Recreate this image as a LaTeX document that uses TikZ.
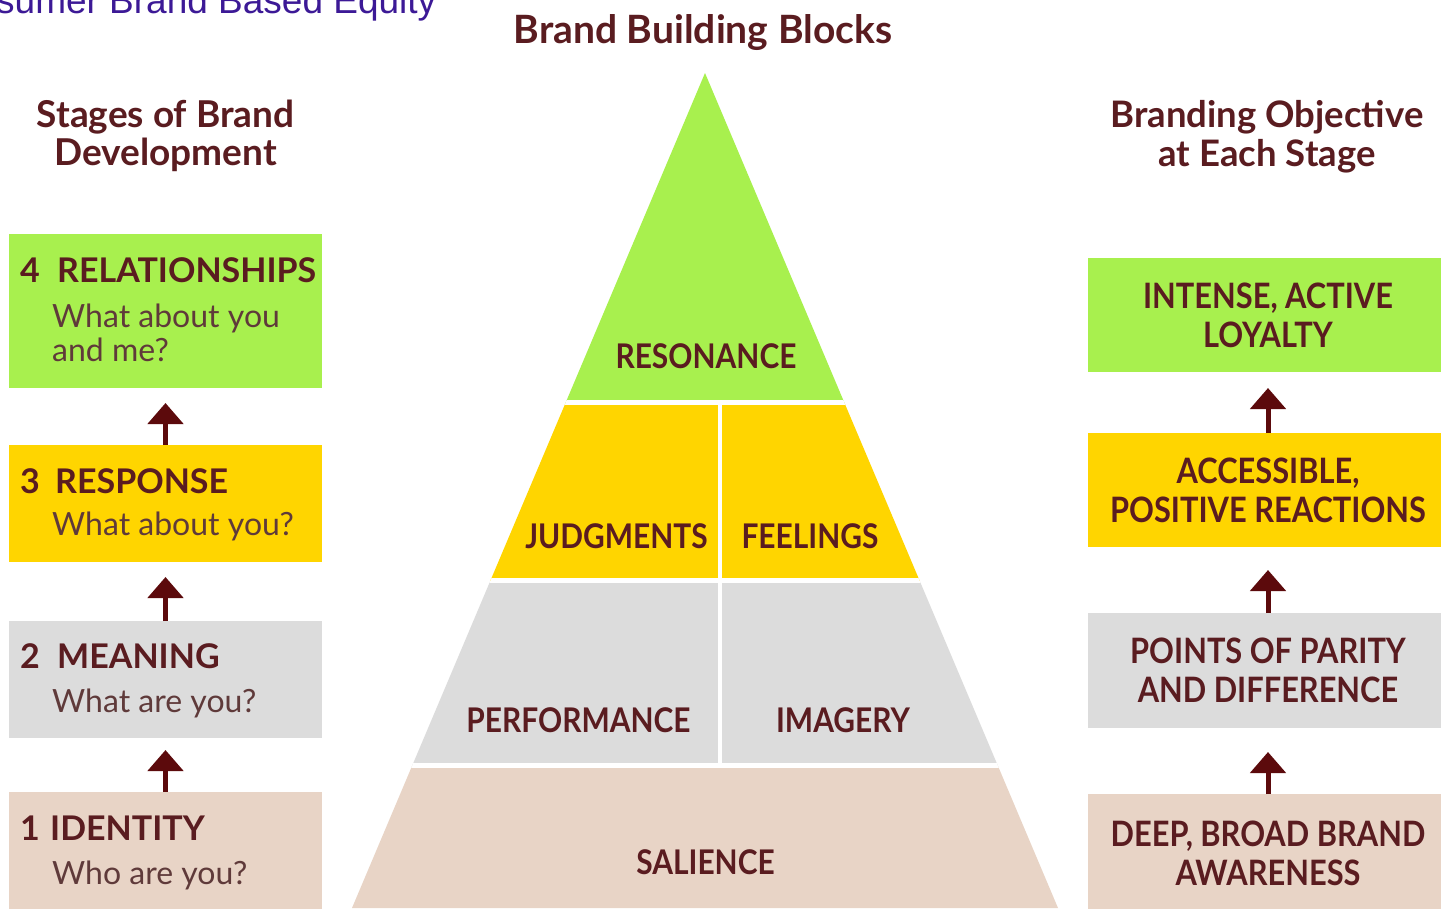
\documentclass[tikz,border=0pt]{standalone}
\usepackage{fontspec}
\setmainfont{Lato}
\newfontfamily\narrowf{Lato}[FakeStretch=0.88]
\newfontfamily\arialf{Liberation Sans}
\usetikzlibrary{arrows.meta}
\definecolor{cgreen}{RGB}{168,240,78}
\definecolor{cyellow}{RGB}{255,213,0}
\definecolor{cgrey}{RGB}{220,220,220}
\definecolor{cbeige}{RGB}{232,212,198}
\definecolor{ctext}{RGB}{90,28,32}
\definecolor{cqtext}{RGB}{95,58,58}
\definecolor{carrow}{RGB}{92,10,12}
\definecolor{cpurple}{RGB}{60,25,150}
\tikzset{
  lbox/.style={inner sep=0pt, outer sep=0pt, minimum width=313pt},
  rbox/.style={inner sep=0pt, outer sep=0pt, minimum width=360pt, align=center, text=ctext,
    font=\narrowf\bfseries\fontsize{35}{39}\selectfont},
  stagetxt/.style={anchor=base west, inner sep=0pt, text=ctext, font=\bfseries\fontsize{34}{34}\selectfont},
  qtxt/.style={anchor=base west, inner sep=0pt, text=cqtext, font=\fontsize{32}{32}\selectfont},
  headtxt/.style={anchor=base, inner sep=0pt, text=ctext, font=\bfseries\fontsize{#1}{#1}\selectfont},
  headtxt/.default=38,
  pyrtxt/.style={anchor=base, inner sep=0pt, text=ctext, font=\narrowf\bfseries\fontsize{34}{34}\selectfont},
  uparrow/.style={draw=carrow, line width=5pt, -{Triangle[width=35pt,length=21pt]}},
}
\begin{document}
\begin{tikzpicture}[x=1pt,y=-1pt]
\useasboundingbox (0,0) rectangle (1441,908);
\clip (0,0) rectangle (1441,908);
\fill[white] (0,0) rectangle (1441,908);

% top-left cut title
\node[anchor=base west, inner sep=0pt, text=cpurple, font=\arialf\fontsize{37}{37}\selectfont] (eq) at (-4,13) {sumer Brand Based Equity};

% headers
\node[headtxt=39] (h1) at (703,43) {Brand Building Blocks};
\node[headtxt=37] (h2a) at (165.5,127) {Stages of Brand};
\node[headtxt=37] (h2b) at (165.5,165) {Development};
\node[headtxt=36.5] (h3a) at (1267,127) {Branding Objective};
\node[headtxt=36.5] (h3b) at (1267,166) {at Each Stage};

% pyramid
\begin{scope}
\clip (705,73) -- (352,908) -- (1058,908) -- cycle;
\fill[cgreen] (300,60) rectangle (1100,402.5);
\fill[cyellow] (300,402.5) rectangle (1100,580.5);
\fill[cgrey] (300,580.5) rectangle (1100,765.5);
\fill[cbeige] (300,765.5) rectangle (1100,920);
\draw[white, line width=5pt] (300,402.5) -- (1100,402.5);
\draw[white, line width=5pt] (300,580.5) -- (1100,580.5);
\draw[white, line width=5pt] (300,765.5) -- (1100,765.5);
\draw[white, line width=4pt] (720,402) -- (720,766);
\end{scope}
\node[pyrtxt] (pres) at (706,368) {RESONANCE};
\node[pyrtxt] (pjud) at (616.5,548) {JUDGMENTS};
\node[pyrtxt] (pfee) at (810,548) {FEELINGS};
\node[pyrtxt] (pper) at (578.5,732) {PERFORMANCE};
\node[pyrtxt] (pima) at (843,732) {IMAGERY};
\node[pyrtxt] (psal) at (705.5,874) {SALIENCE};

% left boxes
\node[lbox, fill=cgreen, minimum height=154pt] (b4) at (165.5,311) {};
\node[lbox, fill=cyellow, minimum height=117pt] (b3) at (165.5,503.5) {};
\node[lbox, fill=cgrey, minimum height=117pt] (b2) at (165.5,679.5) {};
\node[lbox, fill=cbeige, minimum height=120pt] (b1) at (165.5,852) {};

\node[stagetxt] (t4) at (20,282) {\makebox[37pt][l]{4}RELATIONSHIPS};
\node[qtxt] (q4a) at (52,327) {What about you};
\node[qtxt] (q4b) at (52,361) {and me?};
\node[stagetxt] (t3) at (20,493) {\makebox[35pt][l]{3}RESPONSE};
\node[qtxt] (q3) at (52,535) {What about you?};
\node[stagetxt] (t2) at (20,668) {\makebox[37pt][l]{2}MEANING};
\node[qtxt] (q2) at (52,712) {What are you?};
\node[stagetxt] (t1) at (20,840) {\makebox[30pt][l]{1}IDENTITY};
\node[qtxt] (q1) at (52,884) {Who are you?};

\draw[uparrow] (b3.north) -- ([yshift=-15pt]b4.south);
\draw[uparrow] (b2.north) -- ([yshift=-15pt]b3.south);
\draw[uparrow] (b1.north) -- ([yshift=-12pt]b2.south);

% right boxes
\node[rbox, fill=cgreen, minimum height=114pt] (r4) at (1268,315) {INTENSE, ACTIVE\\LOYALTY};
\node[rbox, fill=cyellow, minimum height=114pt] (r3) at (1268,490) {ACCESSIBLE,\\POSITIVE REACTIONS};
\node[rbox, fill=cgrey, minimum height=115pt] (r2) at (1268,670.5) {POINTS OF PARITY\\AND DIFFERENCE};
\node[rbox, fill=cbeige, minimum height=118pt] (r1) at (1268,853) {DEEP, BROAD BRAND\\AWARENESS};

\draw[uparrow] (r3.north) -- ([yshift=-16pt]r4.south);
\draw[uparrow] (r2.north) -- ([yshift=-23pt]r3.south);
\draw[uparrow] (r1.north) -- ([yshift=-24pt]r2.south);
\end{tikzpicture}
\end{document}
